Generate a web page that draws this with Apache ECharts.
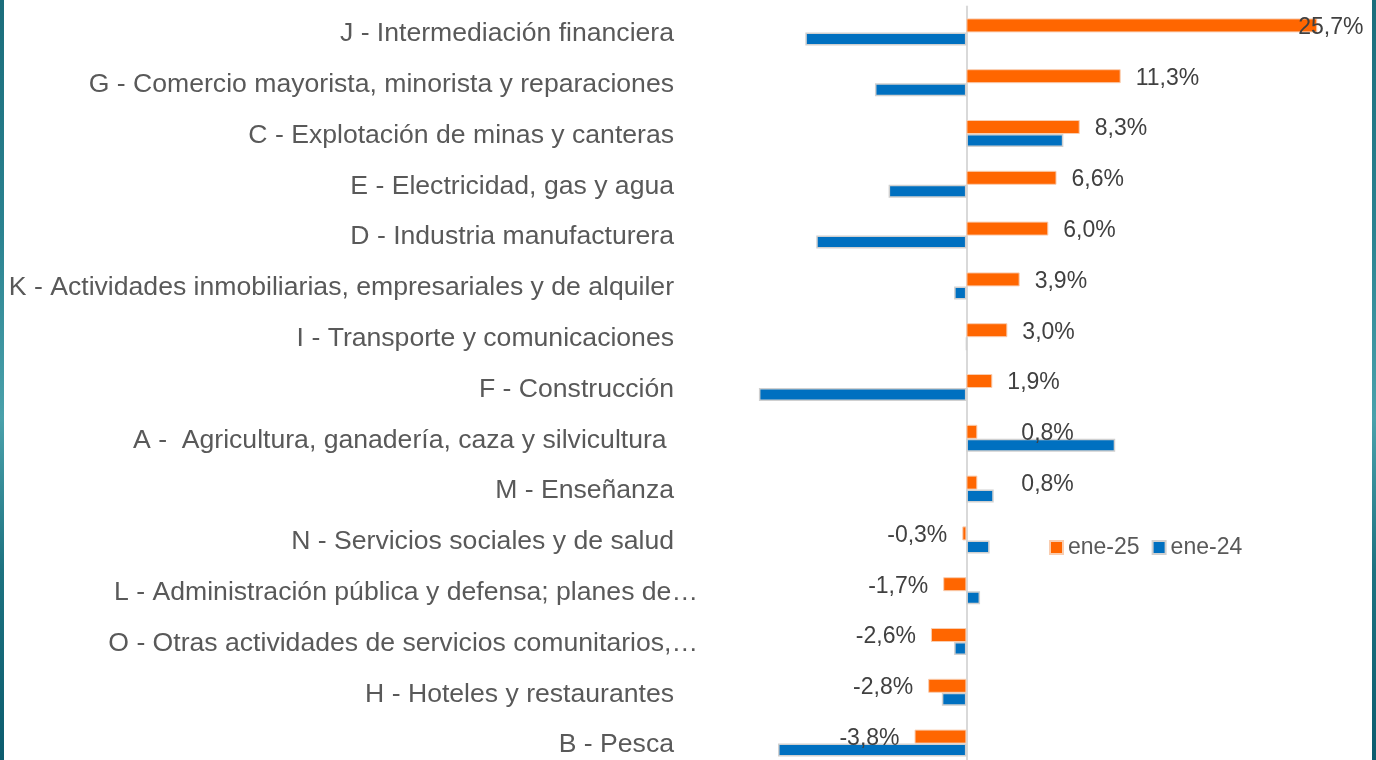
<!DOCTYPE html>
<html>
<head>
<meta charset="utf-8">
<script src="https://cdn.jsdelivr.net/npm/echarts@6/dist/echarts.min.js"></script>
<style>
  html, body { margin: 0; padding: 0; background: #fff; }
  #chart { width: 1376px; height: 760px; }
</style>
</head>
<body>
<div id="chart"></div>
<script>
// categories, top to bottom
const categories = [
  'J - Intermediación financiera',
  'G - Comercio mayorista, minorista y reparaciones',
  'C - Explotación de minas y canteras',
  'E - Electricidad, gas y agua',
  'D - Industria manufacturera',
  'K - Actividades inmobiliarias, empresariales y de alquiler',
  'I - Transporte y comunicaciones',
  'F - Construcción',
  'A -  Agricultura, ganadería, caza y silvicultura ',
  'M - Enseñanza',
  'N - Servicios sociales y de salud',
  'L - Administración pública y defensa; planes de…',
  'O - Otras actividades de servicios comunitarios,…',
  'H - Hoteles y restaurantes',
  'B - Pesca'
]
const ene25 = [25.7, 11.3, 8.3, 6.6, 6.0, 3.9, 3.0, 1.9, 0.8, 0.8, -0.3, -1.7, -2.6, -2.8, -3.8]
const ene24 = [-11.8, -6.7, 7.1, -5.7, -11.0, -0.9, 0, -15.2, 10.9, 2.0, 1.7, 1.0, -0.9, -1.8, -13.8]
const seriesNames = ['ene-25', 'ene-24']

// labels excel moved around
const labelNudge = { 0: [-34, 2], 8: [29, 2], 9: [29, 2] }
const cutLabels = [11, 12]

const FONT = '"Liberation Sans", Arial, sans-serif'
const fmt = v => v.toFixed(1).replace('.', ',') + '%'

const orangeData = ene25.map((v, i) => ({
  value: v,
  label: {
    position: v < 0 ? 'left' : 'right',
    offset: labelNudge[i] || [0, 2]
  }
}))

const edge = {
  type: 'linear', x: 0, y: 0, x2: 0, y2: 1,
  colorStops: [
    { offset: 0, color: '#1b6d7b' },
    { offset: 0.3, color: '#2a8290' },
    { offset: 0.55, color: '#4aa1ab' },
    { offset: 0.75, color: '#1d7280' },
    { offset: 1, color: '#0c5c6e' }
  ]
}

let myChart = echarts.init(document.getElementById('chart'))

myChart.setOption({
  animation: false,
  backgroundColor: '#fff',
  textStyle: { fontFamily: FONT },
  graphic: [
    { type: 'rect', left: 0, top: 0, shape: { width: 4, height: 760 }, style: { fill: edge }, z: 100 },
    { type: 'rect', right: 0, top: 0, shape: { width: 4, height: 760 }, style: { fill: edge }, z: 100 }
  ],
  legend: {
    data: seriesNames,
    left: 1044,
    top: 531,
    icon: 'rect',
    itemWidth: 13,
    itemHeight: 13,
    itemGap: 12,
    textStyle: { fontSize: 23, color: '#595959', fontFamily: FONT }
  },
  grid: { left: 748, right: 41, top: 6.5, bottom: -8.5, containLabel: false, outerBoundsMode: 'none' },
  xAxis: {
    type: 'value',
    min: -16,
    max: 27,
    axisLine: { show: false },
    axisTick: { show: false },
    axisLabel: { show: false },
    splitLine: { show: false }
  },
  yAxis: {
    type: 'category',
    data: categories,
    inverse: true,
    axisLine: { lineStyle: { color: '#d9d9d9', width: 2 } },
    axisTick: { length: 7, lineStyle: { color: '#d9d9d9', width: 2 } },
    axisLabel: {
      margin: 50,
      fontSize: 26.6,
      fontFamily: FONT,
      color: '#595959',
      formatter: (v, i) => cutLabels.includes(i) ? '{t|' + v + '}' : '{n|' + v + '}',
      rich: {
        n: { fontSize: 26.6, fontFamily: FONT, color: '#595959', padding: [4, 24, 0, 0] },
        t: { fontSize: 26.6, fontFamily: FONT, color: '#595959', padding: [4, 0, 0, 0] }
      }
    }
  },
  series: [
    {
      name: seriesNames[0],
      type: 'bar',
      data: orangeData,
      barWidth: 14,
      barGap: '0%',
      itemStyle: { color: '#ff6600', borderColor: '#f9cdb0', borderWidth: 1 },
      label: {
        show: true,
        distance: 15,
        fontSize: 23,
        fontFamily: FONT,
        color: '#404040',
        formatter: p => fmt(p.value)
      }
    },
    {
      name: seriesNames[1],
      type: 'bar',
      data: ene24,
      barWidth: 13,
      barGap: '0%',
      itemStyle: { color: '#0070c0', borderColor: '#d0d0d0', borderWidth: 1.5 }
    }
  ]
})

window.onresize = function() {
  myChart.resize()
}
</script>
</body>
</html>
